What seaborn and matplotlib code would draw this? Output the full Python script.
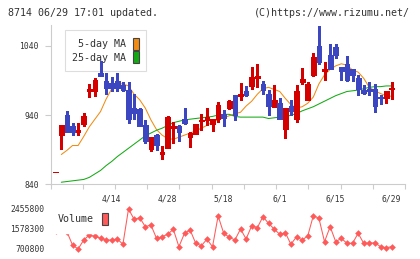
import numpy as np
import pandas as pd
import seaborn as sns
import matplotlib
matplotlib.use("Agg")
import matplotlib.pyplot as plt
from matplotlib.patches import Patch

#%% dados (8714, 3/31 a 6/29)
opens = [858, 911, 940, 924, 916, 927, 975, 975, 1000, 989,
         986, 989, 983, 976, 950, 948, 925, 891, 911, 884,
         893, 921, 924, 934, 909, 913, 931, 933, 927, 934,
         941, 950, 969, 967, 974, 982, 994, 985, 970, 952,
         957, 920, 953, 934, 988, 962, 998, 1040, 1004, 1027,
         1038, 1009, 1014, 1006, 994, 976, 978, 977, 966, 965,
         978]
highs = [858, 926, 946, 929, 928, 943, 985, 993, 1018, 1000,
         995, 1001, 987, 987, 970, 950, 933, 909, 912, 895,
         938, 930, 925, 950, 915, 927, 941, 950, 934, 959,
         947, 961, 969, 986, 982, 1010, 1013, 989, 976, 983,
         964, 950, 961, 983, 1008, 987, 1030, 1068, 1017, 1042,
         1042, 1009, 1025, 1007, 998, 983, 988, 985, 969, 975,
         987]
lows = [858, 891, 915, 911, 911, 924, 966, 967, 996, 970,
        975, 975, 975, 928, 934, 924, 900, 888, 890, 876,
        892, 900, 902, 927, 894, 912, 918, 925, 917, 930,
        924, 949, 933, 962, 968, 978, 980, 970, 940, 951,
        934, 907, 940, 930, 985, 961, 996, 1013, 991, 1006,
        1022, 990, 989, 989, 969, 971, 969, 945, 956, 957,
        963]
closes = [858, 926, 916, 915, 918, 939, 977, 991, 996, 979,
          979, 979, 976, 934, 943, 924, 903, 908, 897, 886,
          937, 924, 916, 928, 914, 927, 933, 937, 934, 954,
          936, 960, 940, 970, 969, 995, 996, 976, 953, 962,
          934, 950, 946, 974, 992, 985, 1024, 1017, 1006, 1007,
          1026, 1004, 990, 998, 977, 972, 975, 953, 964, 975,
          979]

ma5 = [np.nan, 883, 889, 896, 896, 909, 923, 934, 945, 963,
       978, 985, 985, 982, 970, 962, 950, 933, 919, 911,
       906, 905, 908, 911, 914, 917, 921, 925, 930, 933,
       936, 939, 942, 944, 953, 960, 970, 978, 980, 977,
       974, 964, 955, 950, 952, 957, 966, 985, 998, 1006,
       1011, 1014, 1012, 1005, 1002, 993, 980, 975, 971, 968,
       967]
ma25 = [np.nan, 843, 844, 845, 846, 847, 850, 855, 860, 867,
        873, 880, 886, 892, 898, 904, 910, 914, 918, 921,
        925, 929, 931, 933, 934, 935, 936, 937, 938, 940,
        941, 941, 938, 937, 937, 937, 937, 937, 935, 936,
        937, 937, 940, 942, 946, 949, 952, 956, 960, 964,
        968, 971, 974, 975, 976, 978, 980, 981, 981, 982,
        982]

volume = [1500000, 1600000, 1460000, 876000, 700800, 1096000, 1315000, 1250000, 1180000, 1096000,
          1096000, 1140000, 907000, 2455800, 2004000, 2074000, 1679000, 1754000, 1170000, 1240000,
          1346000, 1565000, 802000, 1390000, 1534000, 951000, 846000, 1126000, 802000, 2149000,
          1390000, 1214000, 1096000, 1578000, 1140000, 1723000, 1635000, 2118000, 1828000, 1578000,
          1346000, 1416000, 907000, 1240000, 1096000, 1271000, 2162000, 2048000, 1021000, 1679000,
          1021000, 1170000, 951000, 951000, 1390000, 951000, 951000, 977000, 802000, 758000,
          802000]

tick_pos = [10, 20, 30, 40, 50, 60]
tick_labels = ['4/14', '4/28', '5/18', '6/1', '6/15', '6/29']
price_ticks = [840, 940, 1040]

#%% montando o dataframe
df = pd.DataFrame({'open': opens, 'high': highs, 'low': lows, 'close': closes,
                   'ma5': ma5, 'ma25': ma25, 'volume': volume})
df['idx'] = np.arange(len(df))
df['sobe'] = df['close'] >= df['open']

VERM = '#d40000'
AZUL = '#3c46c0'
LARANJA = '#f08c14'
VERDE = '#14aa14'
VOLCOR = '#ff5a5a'
CINZA = '#cccccc'
TEXTO = '#333333'

sns.set_theme(style='white')
plt.rcParams['font.family'] = ['DejaVu Sans Mono']

W, H = 420, 259
fig = plt.figure(figsize=(W / 100, H / 100), dpi=100)

# eixo de precos
x0, x1 = -0.93, 62.37
ax = fig.add_axes([50.5 / W, (H - 184.3) / H, (405 - 50.5) / W, (184.3 - 25) / H])
ax.set_facecolor('white')

cores = np.where(df['sobe'], VERM, AZUL)
ax.vlines(df['idx'], df['low'], df['high'], colors=cores, linewidth=0.8,
          antialiased=False, zorder=3)
corpo = (df['close'] - df['open']).abs()
base = df[['open', 'close']].min(axis=1)
ax.bar(df['idx'], corpo, bottom=base, width=0.85, color=cores,
       edgecolor=cores, linewidth=0.6, antialiased=False, zorder=4)

sns.lineplot(data=df, x='idx', y='ma5', color=LARANJA, linewidth=0.75, ax=ax, zorder=2)
sns.lineplot(data=df, x='idx', y='ma25', color=VERDE, linewidth=0.75, ax=ax, zorder=2)

ax.set_xlim(x0, x1)
ax.set_ylim(840, 1070)
ax.set_xlabel('')
ax.set_ylabel('')
ax.set_yticks(price_ticks)
ax.set_yticklabels([str(v) for v in price_ticks])
ax.set_xticks(tick_pos)
ax.set_xticklabels(tick_labels)
ax.set_xticks(np.linspace(x0, x1, 12), minor=True)
ax.tick_params(axis='y', length=4.3, width=0.8, color=CINZA, pad=4,
               labelsize=5.8, labelcolor=TEXTO, left=True)
ax.tick_params(axis='x', which='major', length=0, pad=7, labelsize=5.8, labelcolor=TEXTO)
ax.tick_params(axis='x', which='minor', length=3.8, width=0.8, color=CINZA, bottom=True)
for lado in ['top', 'right']:
    ax.spines[lado].set_visible(False)
for lado in ['left', 'bottom']:
    ax.spines[lado].set_color(CINZA)
    ax.spines[lado].set_linewidth(0.8)

leg = ax.legend(handles=[Patch(facecolor=LARANJA, edgecolor='#444444', linewidth=0.8, label='5-day MA'),
                         Patch(facecolor=VERDE, edgecolor='#444444', linewidth=0.8, label='25-day MA')],
                loc='upper left', bbox_to_anchor=(65 / W, 1 - 30 / H), bbox_transform=fig.transFigure,
                borderaxespad=0, markerfirst=False, handlelength=0.6, handleheight=1.5,
                handletextpad=0.6, labelspacing=0.15, borderpad=0.75, fancybox=False,
                framealpha=1, edgecolor='#dddddd', prop={'size': 7.2}, labelcolor=TEXTO)
leg.get_frame().set_linewidth(0.8)
leg.set_zorder(1)

# eixo de volume
ax2 = fig.add_axes([50.5 / W, (H - 255) / H, (405 - 50.5) / W, (255 - 203) / H])
vmin, vmax = min(volume), max(volume)
passo = (vmax - vmin) / 40
sns.lineplot(data=df, x='idx', y='volume', color=VOLCOR, linewidth=0.75, marker='D',
             markersize=3.4, markeredgewidth=0, ax=ax2)
ax2.set_xlim(x0, x1)
ax2.set_ylim(vmin - 6 * passo, vmax + 6 * passo)
ax2.set_xticks([])
ax2.set_yticks([vmin, (vmin + vmax) / 2, vmax])
ax2.set_yticklabels([f'{int(round(v))}' for v in [vmin, (vmin + vmax) / 2, vmax]])
ax2.tick_params(axis='y', length=0, pad=4.5, labelsize=5.8, labelcolor=TEXTO)
ax2.set_xlabel('')
ax2.set_ylabel('')
for lado in ax2.spines:
    ax2.spines[lado].set_visible(False)

leg2 = ax2.legend(handles=[Patch(facecolor=VOLCOR, edgecolor='#444444', linewidth=0.8, label='Volume')],
                  loc='upper left', bbox_to_anchor=(50 / W, 1 - 205 / H), bbox_transform=fig.transFigure,
                  borderaxespad=0, markerfirst=False, handlelength=0.6, handleheight=1.5,
                  handletextpad=0.75, borderpad=0.8, fancybox=False, framealpha=1,
                  edgecolor='white', facecolor='white', prop={'size': 7.2}, labelcolor=TEXTO)

# textos do topo
fig.text(8 / W, 1 - 12.5 / H, '8714 06/29 17:01 updated.', fontsize=7.2, color=TEXTO, va='center')
fig.text(409.5 / W, 1 - 12.5 / H, '(C)https://www.rizumu.net/', fontsize=7.2, color=TEXTO,
         va='center', ha='right')

fig.savefig('out.png', dpi=100, facecolor='white')
